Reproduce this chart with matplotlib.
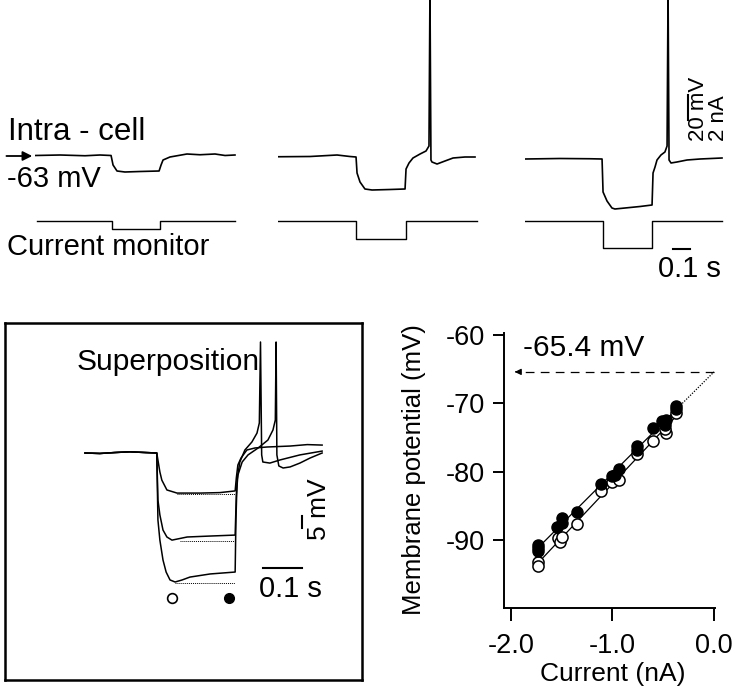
import matplotlib
matplotlib.use("Agg")
import matplotlib.pyplot as plt
import numpy as np

plt.rcParams['font.family'] = ['Liberation Sans', 'DejaVu Sans']

W, H = 745, 700

# ---- top row: three sweeps (t in s, V in mV, I in nA) ----
sweep1_t = [0, 0.152, 0.303, 0.394, 0.461, 0.473, 0.497, 0.545, 0.636, 0.752, 0.764, 0.776,
            0.818, 0.921, 1.0, 1.091, 1.152, 1.212]
sweep1_v = [-62.6, -62.2, -62.8, -62.2, -62.6, -70.2, -75.0, -75.8, -75.4, -75.0, -70.2, -66.2,
            -63.8, -61.4, -62.0, -61.4, -62.6, -62.2]
sweep2_t = [0, 0.194, 0.358, 0.436, 0.473, 0.479, 0.497, 0.527, 0.570, 0.679, 0.770, 0.776,
            0.794, 0.818, 0.861, 0.897, 0.915, 0.921, 0.927, 0.933, 0.964, 1.012, 1.061, 1.133, 1.194]
sweep2_v = [-63.6, -63.4, -62.2, -63.4, -63.8, -76.6, -83.8, -89.4, -90.2, -89.8, -89.4, -73.4,
            -68.6, -64.6, -61.4, -59.0, -55.0, 70.0, -66.2, -67.8, -69.4, -67.0, -64.6, -63.8, -63.8]
sweep3_t = [0, 0.212, 0.394, 0.467, 0.473, 0.497, 0.527, 0.545, 0.606, 0.697, 0.770, 0.776,
            0.788, 0.800, 0.824, 0.848, 0.861, 0.867, 0.873, 0.885, 0.921, 0.982, 1.061, 1.194]
sweep3_v = [-65.4, -65.0, -65.2, -65.4, -91.8, -99.0, -104.6, -105.4, -104.6, -103.4, -102.2, -76.6,
            -71.8, -66.2, -62.2, -59.8, -55.0, 70.0, -66.2, -68.6, -67.8, -66.2, -65.4, -64.6]
pulse_on = [0.464, 0.473, 0.473]
pulse_off = [0.758, 0.776, 0.770]
pulse_amp = [-0.61, -1.41, -2.18]
sweep_end = [1.212, 1.206, 1.194]

# ---- superposition (t in s, V in mV) ----
base_t = [0, 0.038, 0.077, 0.115, 0.154, 0.184]
base_v = [-63.0, -63.2, -62.8, -62.5, -62.8, -63.0]
supA_t = [0.192, 0.197, 0.210, 0.236, 0.295, 0.346, 0.385, 0.388, 0.392, 0.400, 0.415, 0.436,
          0.467, 0.526, 0.570, 0.608]
supA_v = [-70.9, -74.3, -78.4, -79.7, -79.7, -79.5, -78.8, -73.4, -68.0, -65.1, -61.75, -60.9,
          -60.5, -60.1, -59.5, -59.7]
supB_t = [0.187, 0.192, 0.200, 0.210, 0.223, 0.262, 0.321, 0.385, 0.388, 0.392, 0.403, 0.418,
          0.444, 0.469, 0.482, 0.488, 0.490, 0.492, 0.497, 0.508, 0.526, 0.551, 0.577, 0.608]
supB_v = [-82.6, -88.8, -95.1, -98.0, -99.3, -98.0, -97.6, -97.2, -80.5, -72.2, -66.75, -63.8,
          -60.9, -57.6, -53.4, -49.25, -16.75, -63.8, -68.4, -69.25, -68.8, -67.2, -65.1, -63.0]
supC_t = [0.187, 0.192, 0.200, 0.208, 0.218, 0.231, 0.249, 0.269, 0.321, 0.385, 0.387, 0.390,
          0.397, 0.410, 0.428, 0.441, 0.447, 0.450, 0.453, 0.456, 0.474, 0.500, 0.551, 0.608]
supC_v = [-90.9, -99.3, -107.6, -112.6, -115.9, -116.75, -115.9, -114.7, -113.4, -112.6, -90.9, -74.25,
          -66.75, -61.75, -58.4, -54.7, -50.5, -16.75, -63.8, -66.75, -67.2, -65.9, -63.8, -62.2]
sup_peak_v = [-80.1, -99.7, -117.2]
sup_peak_t0 = [0.236, 0.244, 0.231]
sup_pulse_end = 0.385

# ---- I-V relation ----
filled_i = [-1.73, -1.73, -1.73, -1.55, -1.50, -1.50, -1.35, -1.11, -1.00, -0.98, -0.94,
            -0.76, -0.76, -0.60, -0.51, -0.47, -0.48, -0.37, -0.37]
filled_v = [-90.8, -91.2, -91.7, -88.1, -86.8, -87.6, -85.9, -81.9, -80.7, -80.5, -79.7,
            -76.3, -76.9, -73.6, -72.6, -72.5, -73.2, -70.4, -70.9]
open_i = [-1.73, -1.73, -1.54, -1.52, -1.50, -1.35, -1.11, -1.00, -0.94, -0.76, -0.60,
          -0.47, -0.48, -0.37]
open_v = [-93.3, -93.9, -89.8, -90.3, -89.6, -87.7, -82.8, -81.6, -81.2, -77.4, -75.6,
          -74.3, -73.8, -71.4]
v_zero = -65.4


def rect(x0, y0, x1, y1):
    return [x0 / W, 1 - y1 / H, (x1 - x0) / W, (y1 - y0) / H]


def ftext(x, y, s, **kw):
    fig.text(x / W, 1 - y / H, s, **kw)


fig = plt.figure(figsize=(W / 100, H / 100), dpi=100)

# top sweeps
sweeps = [(sweep1_t, sweep1_v), (sweep2_t, sweep2_v), (sweep3_t, sweep3_v)]
x_starts = [35, 278, 525]
axes_top = []
for k, (tt, vv) in enumerate(sweeps):
    x0 = x_starts[k]
    ax = fig.add_axes(rect(x0, 0, x0 + 220, 265))
    ax.set_xlim(0, 220 / 165)
    ax.set_ylim(-63 - 109 / 1.25, -63 + 156 / 1.25)
    ax.plot(tt, vv, color='k', lw=1.2)
    ax.axis('off')
    axi = ax.twinx()
    axi.set_ylim(-44 / 12.5, 221 / 12.5)
    ti = [0.012 if k == 0 else 0, pulse_on[k], pulse_on[k], pulse_off[k], pulse_off[k], sweep_end[k]]
    ii = [0, 0, pulse_amp[k], pulse_amp[k], 0, 0]
    axi.plot(ti, ii, color='k', lw=1.0)
    axi.axis('off')
    axes_top.append(ax)

a1 = axes_top[0]
a1.annotate('', xy=(0, -63), xytext=(-0.19, -63), annotation_clip=False,
            arrowprops=dict(arrowstyle='-|>', color='k', lw=1.3, mutation_scale=14))
a3 = axes_top[2]
a3.plot([0.988, 0.988], [-34.2, -14.2], color='k', lw=1.5, clip_on=False)
a3.plot([0.897, 0.997], [-137.4, -137.4], color='k', lw=1.5, clip_on=False)

ftext(8, 140, 'Intra - cell', fontsize=22.5, va='baseline')
ftext(7, 187, '-63 mV', fontsize=21, va='baseline')
ftext(7, 255, 'Current monitor', fontsize=21, va='baseline')
ftext(698, 141, '20 mV', fontsize=16, rotation=90, ha='center', va='bottom')
ftext(719, 141, '2 nA', fontsize=16, rotation=90, ha='center', va='bottom')
ftext(689, 277, '0.1 s', fontsize=21, ha='center', va='baseline')

# superposition box
axs = fig.add_axes(rect(5, 323, 362, 680))
axs.set_xlim(-80 / 390, 277 / 390)
axs.set_ylim(-63 - 227 / 2.4, -63 + 130 / 2.4)
for tt, vv in [(supA_t, supA_v), (supB_t, supB_v), (supC_t, supC_v)]:
    axs.plot(base_t + tt, base_v + vv, color='k', lw=1.1)
for t0, vp in zip(sup_peak_t0, sup_peak_v):
    axs.plot([t0, sup_pulse_end], [vp, vp], color='k', lw=0.7, ls=(0, (1, 1)))
axs.plot([0.223], [-123.4], 'o', mfc='white', mec='k', ms=7, mew=1.2)
axs.plot([0.369], [-123.4], 'o', mfc='k', mec='k', ms=7)
axs.plot([0.456, 0.556], [-110.9, -110.9], color='k', lw=1.5)
axs.plot([0.556, 0.556], [-94.25, -89.25], color='k', lw=1.5)
axs.set_xticks([])
axs.set_yticks([])
for sp in axs.spines.values():
    sp.set_linewidth(1.8)
ftext(77, 370, 'Superposition', fontsize=21.5, va='baseline')
ftext(290, 597, '0.1 s', fontsize=21, ha='center', va='baseline')
ftext(319, 509, '5 mV', fontsize=19, rotation=90, ha='center', va='center')

# I-V plot
axv = fig.add_axes(rect(504, 333, 715, 608))
axv.set_xlim(-2.069, 0.0099)
axv.set_ylim(-100, -59.7)
for xs, ys in [(filled_i, filled_v), (open_i, open_v)]:
    p = np.polyfit(xs, ys, 1)
    xf = np.array([min(xs), max(xs)])
    axv.plot(xf, np.polyval(p, xf), color='k', lw=0.9)
pf = np.polyfit(filled_i, filled_v, 1)
axv.plot([max(filled_i), 0], [np.polyval(pf, max(filled_i)), v_zero], color='k', lw=0.9, ls=(0, (1, 1.2)))
axv.plot(open_i, open_v, 'o', mfc='white', mec='k', ms=8, mew=1.1, ls='none')
axv.plot(filled_i, filled_v, 'o', mfc='k', mec='k', ms=8, ls='none')
axv.plot([0, -1.94], [v_zero, v_zero], color='k', lw=0.9, ls=(0, (7, 5)))
axv.annotate('', xy=(-1.99, v_zero), xytext=(-1.92, v_zero),
             arrowprops=dict(arrowstyle='-|>', color='k', lw=0.9, mutation_scale=9))
axv.spines['top'].set_visible(False)
axv.spines['right'].set_visible(False)
axv.spines['left'].set_linewidth(1.4)
axv.spines['bottom'].set_linewidth(1.4)
axv.set_xticks([-2.0, -1.0, 0.0])
axv.set_xticklabels(['-2.0', '-1.0', '0.0'])
axv.set_yticks([-60, -70, -80, -90])
axv.set_yticklabels(['-60', '-70', '-80', '-90'])
axv.tick_params(axis='y', direction='out', length=8, width=1.4, labelsize=19.5, pad=6)
axv.tick_params(axis='x', direction='out', length=9, width=1.4, labelsize=19.5, pad=9)
ftext(523, 356, '-65.4 mV', fontsize=21.5, va='baseline')
ftext(613, 674, 'Current (nA)', fontsize=19, ha='center', va='center')
ftext(414, 470, 'Membrane potential (mV)', fontsize=18.5, rotation=90, ha='center', va='center')

fig.savefig('out.png', dpi=100)
